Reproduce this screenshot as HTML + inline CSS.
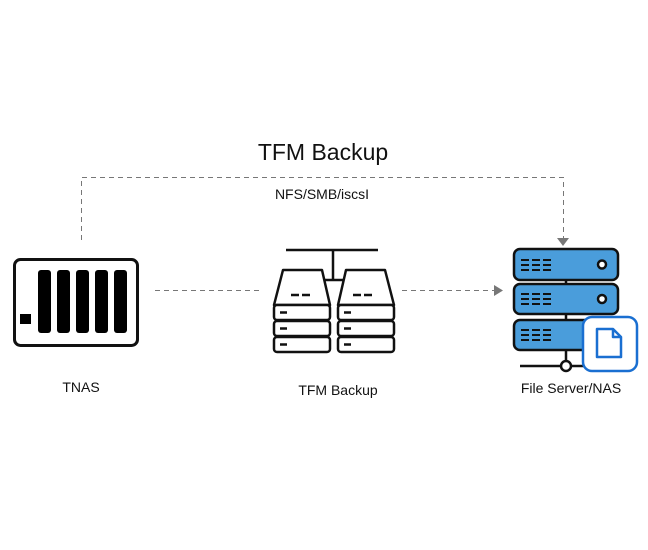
<!DOCTYPE html>
<html><head><meta charset="utf-8"><style>
html,body{margin:0;padding:0;background:#fff;}
svg{display:block;}
text{font-family:"Liberation Sans","Noto Sans CJK SC",sans-serif;fill:#111;}
</style></head><body>
<svg width="648" height="550" viewBox="0 0 648 550" xmlns="http://www.w3.org/2000/svg">
<text x="323" y="160" font-size="23" text-anchor="middle">TFM Backup</text>
<text x="322" y="199" font-size="14" text-anchor="middle">NFS/SMB/iscsI</text>
<path d="M81.5 240 V177.5 H563.5 V238" fill="none" stroke="#777" stroke-width="1" stroke-dasharray="5,4"/>
<polygon points="557,238 569,238 563,246" fill="#777"/>
<!-- TNAS -->
<rect x="14.5" y="259.5" width="123" height="86" rx="6" fill="#fff" stroke="#111" stroke-width="3"/>
<rect x="38" y="270" width="13" height="63" rx="3" fill="#000"/>
<rect x="57" y="270" width="13" height="63" rx="3" fill="#000"/>
<rect x="76" y="270" width="13" height="63" rx="3" fill="#000"/>
<rect x="95" y="270" width="13" height="63" rx="3" fill="#000"/>
<rect x="114" y="270" width="13" height="63" rx="3" fill="#000"/>
<rect x="20" y="314" width="11" height="10" fill="#000"/>
<text x="81" y="392" font-size="14" text-anchor="middle">TNAS</text>
<!-- dashed connectors -->
<line x1="155" y1="290.5" x2="262" y2="290.5" stroke="#777" stroke-dasharray="5,4"/>
<line x1="402" y1="290.5" x2="494" y2="290.5" stroke="#777" stroke-dasharray="5,4"/>
<polygon points="494,285 503,290.5 494,296" fill="#777"/>
<!-- TFM Backup icon -->
<g fill="#fff" stroke="#111" stroke-width="2.5" stroke-linejoin="round">
<line x1="286" y1="250" x2="378" y2="250"/>
<line x1="333" y1="250" x2="333" y2="280"/>
<line x1="322" y1="280" x2="343" y2="280"/>
<path d="M283 270 H322 L330 305 H274 Z"/>
<path d="M346 270 H385 L394 305 H338 Z"/>
<rect x="274" y="305" width="56" height="15" rx="3"/>
<rect x="274" y="321" width="56" height="15" rx="3"/>
<rect x="274" y="337" width="56" height="15" rx="3"/>
<rect x="338" y="305" width="56" height="15" rx="3"/>
<rect x="338" y="321" width="56" height="15" rx="3"/>
<rect x="338" y="337" width="56" height="15" rx="3"/>
<line x1="291" y1="295" x2="311" y2="295" stroke-dasharray="8,3"/>
<line x1="353" y1="295" x2="373" y2="295" stroke-dasharray="8,3"/>
<line x1="280" y1="312.5" x2="287" y2="312.5"/><line x1="280" y1="328.5" x2="287" y2="328.5"/><line x1="280" y1="344.5" x2="287" y2="344.5"/>
<line x1="344" y1="312.5" x2="351" y2="312.5"/><line x1="344" y1="328.5" x2="351" y2="328.5"/><line x1="344" y1="344.5" x2="351" y2="344.5"/>
</g>
<text x="338" y="395" font-size="14" text-anchor="middle">TFM Backup</text>
<!-- server -->
<g stroke="#111" stroke-width="2.5">
<line x1="566" y1="280" x2="566" y2="366"/>
<line x1="520" y1="366" x2="585" y2="366"/>
<rect x="514" y="249" width="104" height="31" rx="6" fill="#4a9ddb"/>
<rect x="514" y="284" width="104" height="30" rx="6" fill="#4a9ddb"/>
<rect x="514" y="320" width="104" height="30" rx="6" fill="#4a9ddb"/>
<circle cx="602" cy="264.5" r="4" fill="#fff"/>
<circle cx="602" cy="299" r="4" fill="#fff"/>
<circle cx="566" cy="366" r="5" fill="#fff"/>
</g>
<g stroke="#111" stroke-width="2" stroke-dasharray="8,3">
<line x1="521" y1="260" x2="554" y2="260"/><line x1="521" y1="265" x2="554" y2="265"/><line x1="521" y1="270" x2="554" y2="270"/>
<line x1="521" y1="294" x2="554" y2="294"/><line x1="521" y1="299" x2="554" y2="299"/><line x1="521" y1="304" x2="554" y2="304"/>
<line x1="521" y1="330" x2="554" y2="330"/><line x1="521" y1="335" x2="554" y2="335"/><line x1="521" y1="340" x2="554" y2="340"/>
</g>
<rect x="583" y="317" width="54" height="54" rx="9" fill="#fff" stroke="#1a6fd1" stroke-width="2.5"/>
<path d="M597 329 H613 L621 337 V357 H597 Z M613 329 V337 H621" fill="none" stroke="#1a6fd1" stroke-width="2.5" stroke-linejoin="round"/>
<text x="571" y="393" font-size="14" text-anchor="middle">File Server/NAS</text>
</svg>
</body></html>
